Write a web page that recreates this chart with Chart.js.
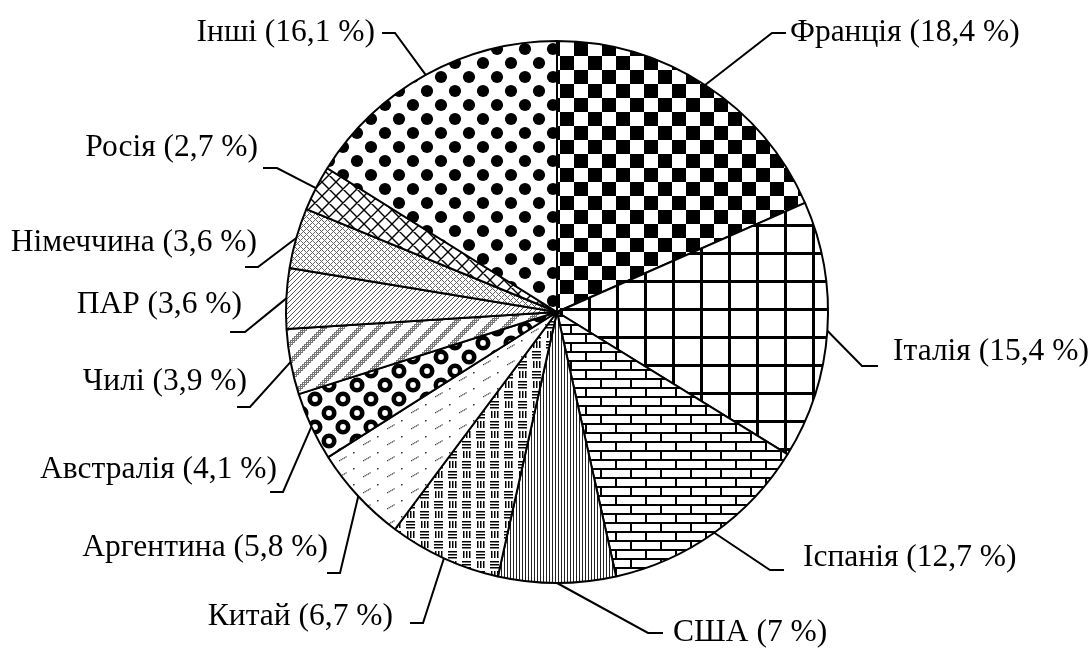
<!DOCTYPE html>
<html>
<head>
<meta charset="utf-8">
<script src="https://cdn.jsdelivr.net/npm/chart.js@4/dist/chart.umd.min.js"></script>
<style>
  html, body { margin: 0; padding: 0; background: #fff; }
  #wrap { width: 1092px; height: 648px; }
</style>
</head>
<body>
<div id="wrap"><canvas id="pie" width="1092" height="648"></canvas></div>
<script>
// data (per cent, clockwise from 12 o'clock)
const countries = ['Франція', 'Італія', 'Іспанія', 'США', 'Китай', 'Аргентина',
    'Австралія', 'Чилі', 'ПАР', 'Німеччина', 'Росія', 'Інші'];
const shares = [18.4, 15.4, 12.7, 7, 6.7, 5.8, 4.1, 3.9, 3.6, 3.6, 2.7, 16.1];
const fills = ['checker', 'grid', 'brick', 'vlines', 'weave', 'dashes',
    'rings', 'stripes', 'fineDiag', 'fineCross', 'cross', 'dots'];

// where each caption sits and how its leader bends (layout only)
const captionLayout = [
    { x: 790, y: 33,  align: 'left',  elbow: [772, 33],  end: [786, 33] },
    { x: 893, y: 352, align: 'left',  elbow: [862, 366], end: [878, 366] },
    { x: 803, y: 558, align: 'left',  elbow: [770, 570], end: [784, 570] },
    { x: 673, y: 633, align: 'left',  elbow: [648, 633], end: [663, 633] },
    { x: 393, y: 617, align: 'right', elbow: [423, 623], end: [410, 623] },
    { x: 328, y: 548, align: 'right', elbow: [340, 573], end: [327, 573] },
    { x: 277, y: 470, align: 'right', elbow: [283, 492], end: [270, 492] },
    { x: 247, y: 382, align: 'right', elbow: [250, 407], end: [237, 407] },
    { x: 242, y: 305, align: 'right', elbow: [245, 332], end: [230, 332] },
    { x: 257, y: 243, align: 'right', elbow: [258, 267], end: [245, 267] },
    { x: 258, y: 148, align: 'right', elbow: [277, 168], end: [263, 168] },
    { x: 375, y: 33,  align: 'right', elbow: [395, 33],  end: [382, 33] }
];

const canvas = document.getElementById('pie');
const ctx = canvas.getContext('2d');

function makeTile(w, h, draw) {
    const c = document.createElement('canvas');
    c.width = w;
    c.height = h;
    const g = c.getContext('2d');
    g.fillStyle = '#fff';
    g.fillRect(0, 0, w, h);
    g.fillStyle = '#000';
    g.strokeStyle = '#000';
    draw(g, w, h);
    return ctx.createPattern(c, 'repeat');
}

function pixels(g, w, h, color, test) {
    g.fillStyle = color;
    for (let y = 0; y < h; y++) {
        for (let x = 0; x < w; x++) {
            if (test(x, y)) g.fillRect(x, y, 1, 1);
        }
    }
}

const patternMakers = {
    checker: () => makeTile(28, 28, (g) => {
        g.fillRect(0, 0, 14, 14);
        g.fillRect(14, 14, 14, 14);
    }),
    grid: () => makeTile(28, 28, (g) => {
        g.fillRect(0, 0, 28, 3);
        g.fillRect(0, 0, 3, 28);
    }),
    brick: () => makeTile(30, 18, (g) => {
        g.fillRect(0, 0, 30, 2);
        g.fillRect(0, 9, 30, 2);
        g.fillRect(0, 0, 2, 9);
        g.fillRect(15, 9, 2, 9);
    }),
    vlines: () => makeTile(3, 3, (g) => {
        g.fillStyle = '#222';
        g.fillRect(0, 0, 1, 3);
    }),
    weave: () => makeTile(28, 20, (g) => {
        for (let i = 0; i < 3; i++) {
            g.fillRect(1 + i * 3, 1, 1.5, 7);       // |||
            g.fillRect(14, 1 + i * 3, 9, 1.5);      // ≡
            g.fillRect(0, 11 + i * 3, 9, 1.5);      // ≡
            g.fillRect(15 + i * 3, 11, 1.5, 7);     // |||
        }
    }),
    dashes: () => makeTile(24, 16, (g) => {
        g.fillStyle = '#333';
        for (let i = 0; i < 5; i++) g.fillRect(3 + i * 1.6, 12 - i * 0.9, 1.2, 1.2);
        g.fillRect(17, 4, 1.5, 1.5);
    }),
    rings: () => makeTile(28, 28, (g) => {
        g.lineWidth = 4.6;
        [[7, 7], [21, 21]].forEach(([cx, cy]) => {
            g.beginPath();
            g.arc(cx, cy, 5.2, 0, Math.PI * 2);
            g.stroke();
        });
        // wrap the ring parts that spill over the tile edge
        [[35, 7], [7, 35], [-7, 21], [21, -7], [35, 35], [-7, -7]].forEach(([cx, cy]) => {
            g.beginPath();
            g.arc(cx, cy, 5.2, 0, Math.PI * 2);
            g.stroke();
        });
    }),
    stripes: () => makeTile(18, 18, (g, w, h) => {
        pixels(g, w, h, '#777', (x, y) => ((x + y) % 18) < 7 && (x % 2 === 0 || y % 2 === 0));
    }),
    fineDiag: () => makeTile(5, 5, (g, w, h) => {
        pixels(g, w, h, '#555', (x, y) => (x + y) % 5 === 0);
    }),
    fineCross: () => makeTile(6, 6, (g, w, h) => {
        pixels(g, w, h, '#666', (x, y) => (x + y) % 6 === 0 || (x - y + 6) % 6 === 0);
    }),
    cross: () => makeTile(14, 14, (g) => {
        g.lineWidth = 1.4;
        g.beginPath();
        for (const k of [-14, 0, 14]) {
            g.moveTo(k, 0); g.lineTo(k + 14, 14);
            g.moveTo(k, 14); g.lineTo(k + 14, 0);
        }
        g.stroke();
    }),
    dots: () => makeTile(28, 28, (g) => {
        [[7, 7], [21, 21]].forEach(([cx, cy]) => {
            g.beginPath();
            g.arc(cx, cy, 6.1, 0, Math.PI * 2);
            g.fill();
        });
    })
};

const captions = countries.map((c, i) => `${c} (${String(shares[i]).replace('.', ',')} %)`);

const leaderPlugin = {
    id: 'leaders',
    afterDraw(chart) {
        const c = chart.ctx;
        const arcs = chart.getDatasetMeta(0).data;
        c.save();
        c.strokeStyle = '#000';
        c.lineWidth = 2;
        c.fillStyle = '#000';
        c.font = '31.5px "Liberation Serif", "Times New Roman", serif';
        c.textBaseline = 'middle';
        arcs.forEach((arc, i) => {
            const p = arc.getProps(['x', 'y', 'startAngle', 'endAngle', 'outerRadius'], true);
            const mid = (p.startAngle + p.endAngle) / 2;
            const sx = p.x + Math.cos(mid) * p.outerRadius;
            const sy = p.y + Math.sin(mid) * p.outerRadius;
            const lay = captionLayout[i];
            c.beginPath();
            c.moveTo(sx, sy);
            c.lineTo(lay.elbow[0], lay.elbow[1]);
            c.lineTo(lay.end[0], lay.end[1]);
            c.stroke();
            c.textAlign = lay.align;
            c.fillText(captions[i], lay.x, lay.y);
        });
        c.restore();
    }
};

new Chart(ctx, {
    type: 'pie',
    data: {
        labels: countries,
        datasets: [{
            data: shares,
            backgroundColor: fills.map(f => patternMakers[f]()),
            borderColor: '#000',
            borderWidth: 2,
            hoverOffset: 0
        }]
    },
    options: {
        responsive: false,
        animation: false,
        radius: 271,
        layout: { padding: { left: 22, right: 0, top: 41, bottom: 65 } },
        plugins: {
            legend: { display: false },
            tooltip: { enabled: false }
        }
    },
    plugins: [leaderPlugin]
});
</script>
</body>
</html>
